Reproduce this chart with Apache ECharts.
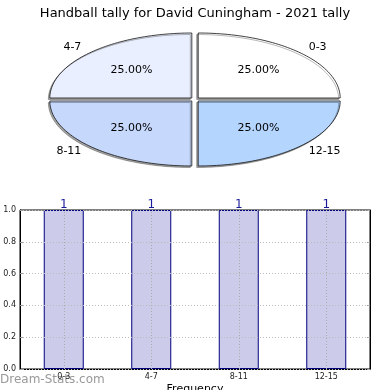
<!DOCTYPE html>
<html>
<head>
<meta charset="utf-8">
<script src="https://cdn.jsdelivr.net/npm/echarts@6/dist/echarts.min.js"></script>
<style>
html,body{margin:0;padding:0;background:#fff;}
#c{width:390px;height:390px;}
</style>
</head>
<body>
<div id="c"></div>
<script>
const titleText = 'Handball tally for David Cuningham - 2021 tally';
const categories = ['0-3', '4-7', '8-11', '12-15'];
const pieValues = [1, 1, 1, 1];
const barValues = [1, 1, 1, 1];
const yTicks = [0, 0.2, 0.4, 0.6, 0.8, 1.0];
const pieColors = ['#ffffff', '#e9effe', '#c6d8fc', '#b4d5fe'];

const FONT = 'DejaVu Sans';
const chart = echarts.init(document.getElementById('c'), null, {renderer: 'canvas'});

const total = pieValues.reduce((a, b) => a + b, 0);
const cx = 195, cy = 99.5, rx = 142, ry = 65;
const exX = 4.5, exY = 2.1;

function renderPie(params, api) {
  const i = params.dataIndex;
  const v = api.value(1);
  let before = 0;
  for (let k = 0; k < i; k++) before += pieValues[k];
  const a0 = before / total * Math.PI * 2;
  const a1 = (before + v) / total * Math.PI * 2;
  const mid = (a0 + a1) / 2;
  const ox = cx + exX * Math.cos(mid);
  const oy = cy - exY * Math.sin(mid);
  const pts = [[ox, oy]];
  const n = 60;
  for (let s = 0; s <= n; s++) {
    const t = a0 + (a1 - a0) * s / n;
    pts.push([ox + rx * Math.cos(t), oy - ry * Math.sin(t)]);
  }
  const cosm = Math.cos(mid), sinm = Math.sin(mid);
  const inX = ox + 0.6 * rx * cosm, inY = oy - 0.6 * ry * sinm;
  const outX = ox + 1.1 * rx * cosm, outY = oy - 1.1 * ry * sinm;
  return {
    type: 'group',
    children: [
      {
        type: 'polygon',
        shape: {points: pts},
        style: {
          fill: pieColors[i], stroke: '#111', lineWidth: 0.8,
          shadowBlur: 0, shadowOffsetX: -1.5, shadowOffsetY: 1.5, shadowColor: 'rgba(0,0,0,0.35)'
        }
      },
      {
        type: 'text',
        style: {
          x: inX, y: inY, text: (v / total * 100).toFixed(2) + '%',
          fill: '#000', font: '11px "' + FONT + '"', align: 'center', verticalAlign: 'middle'
        }
      },
      {
        type: 'text',
        style: {
          x: outX, y: outY, text: categories[i],
          fill: '#000', font: '11px "' + FONT + '"',
          align: cosm >= 0 ? 'left' : 'right', verticalAlign: 'middle'
        }
      }
    ]
  };
}

const option = {
  animation: false,
  backgroundColor: '#fff',
  textStyle: {fontFamily: FONT},
  title: {
    text: titleText, left: 'center', top: 2,
    textStyle: {fontSize: 13, fontWeight: 'normal', color: '#000', fontFamily: FONT}
  },
  graphic: [{
    type: 'text', left: 0, top: 374,
    style: {text: 'Dream-Stats.com', fill: '#999', font: '12px "' + FONT + '"'}
  }],
  grid: {left: 20, right: 20, top: 210, bottom: 21, outerBoundsMode: 'none', containLabel: false,
    show: true, borderColor: '#000', borderWidth: 1, backgroundColor: 'transparent'},
  xAxis: {
    type: 'category', data: categories, boundaryGap: true,
    axisLine: {show: true, lineStyle: {color: '#000'}},
    axisTick: {show: true, inside: true, alignWithLabel: true, length: 3, lineStyle: {color: '#999'}},
    axisLabel: {fontSize: 8, color: '#222', margin: 4, fontFamily: FONT},
    splitLine: {show: false},
    name: 'Frequency', nameLocation: 'middle', nameGap: 15,
    nameTextStyle: {fontSize: 11, color: '#000', fontFamily: FONT}
  },
  yAxis: [{
    type: 'value', min: yTicks[0], max: yTicks[yTicks.length - 1], interval: 0.2, z: 3,
    axisLine: {show: true, lineStyle: {color: '#000'}},
    axisTick: {show: true, inside: true, length: 3, lineStyle: {color: '#999'}},
    axisLabel: {fontSize: 8, color: '#222', margin: 4, fontFamily: FONT, formatter: v => v.toFixed(1)},
    splitLine: {show: true, lineStyle: {color: '#bbb', type: [1, 2], width: 1}}
  }, {
    type: 'value', min: yTicks[0], max: yTicks[yTicks.length - 1], interval: 0.2, position: 'right',
    axisLine: {show: true, lineStyle: {color: '#000'}},
    axisTick: {show: true, inside: true, length: 3, lineStyle: {color: '#999'}},
    axisLabel: {show: false}, splitLine: {show: false}
  }],
  series: [
    {
      type: 'bar', data: barValues, barWidth: 40, yAxisIndex: 0, z: 2,
      itemStyle: {color: '#ccccea', borderColor: '#000080', borderWidth: 1},
      label: {show: true, position: 'top', distance: -1, fontSize: 12, color: '#1a1a99', fontFamily: FONT},
      markLine: {
        silent: true, symbol: 'none', z: 4, label: {show: false},
        lineStyle: {color: '#aaa', type: [1, 2], width: 1},
        data: categories.map(c => ({xAxis: c}))
      }
    },
    {
      type: 'custom', coordinateSystem: 'none', renderItem: renderPie,
      data: pieValues.map((v, i) => [i, v]), silent: true
    }
  ]
};
chart.setOption(option);
</script>
</body>
</html>
